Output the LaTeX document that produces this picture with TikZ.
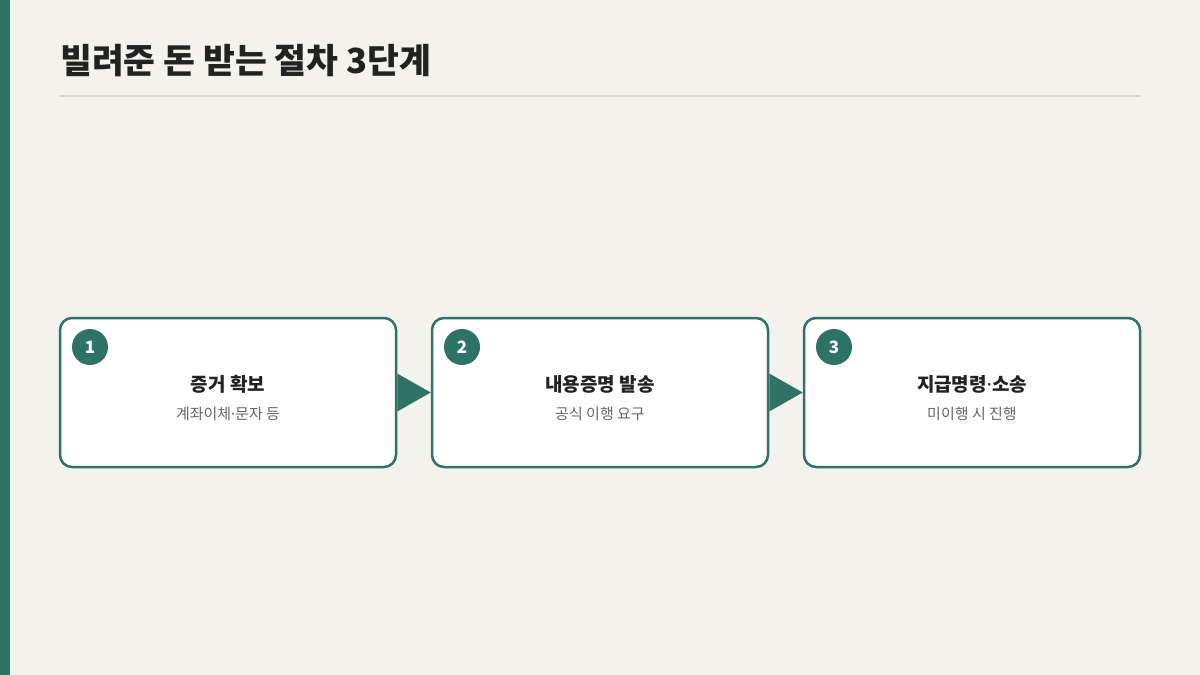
\documentclass[tikz,border=0pt]{standalone}
\usepackage{fontspec}
\setmainfont{Noto Sans CJK KR}
\newfontfamily\dotfont{Noto Sans}
\newcommand{\middot}{{\dotfont\char"00B7}}
\usetikzlibrary{positioning}
\definecolor{bgpaper}{HTML}{F4F2ED}
\definecolor{teal}{HTML}{2F7367}
\definecolor{rulegray}{HTML}{D8D6D0}
\definecolor{headtext}{HTML}{222222}
\definecolor{subtext}{HTML}{666666}
\begin{document}
\begin{tikzpicture}[x=1pt,y=-1pt,
    stepbox/.style={draw=teal,line width=2.5pt,fill=white,rounded corners=12pt,minimum width=336pt,minimum height=149pt},
    badge/.style={circle,fill=teal,minimum size=36pt,inner sep=0pt,text=white,font=\fontsize{17}{17}\selectfont\bfseries},
    headline/.style={anchor=base,text=headtext,font=\fontsize{19}{19}\selectfont\bfseries},
    subline/.style={anchor=base,text=subtext,font=\fontsize{15}{15}\selectfont}]
  \useasboundingbox (0,0) rectangle (1200,675);
  \fill[bgpaper] (0,0) rectangle (1200,675);
  \fill[teal] (0,0) rectangle (10,675);
  \node[anchor=base west,inner sep=0pt,text=headtext,font=\fontsize{34.6}{34.6}\selectfont\bfseries] (title) at (60,73) {빌려준 돈 받는 절차 3단계};
  \draw[rulegray,line width=2pt] (60,96) -- (1140,96);

  \node[stepbox] (s1) at (228,392.5) {};
  \node[stepbox] (s2) at (600,392.5) {};
  \node[stepbox] (s3) at (972,392.5) {};

  \node[badge] (b1) at (90,347) {1};
  \node[badge] (b2) at (462,347) {2};
  \node[badge] (b3) at (834,347) {3};

  \node[headline] (h1) at (228,391) {증거 확보};
  \node[subline] (t1) at (228,419) {계좌이체\middot 문자 등};
  \node[headline] (h2) at (600,391) {내용증명 발송};
  \node[subline] (t2) at (600,419) {공식 이행 요구};
  \node[headline] (h3) at (972,391) {지급명령\middot 소송};
  \node[subline] (t3) at (972,419) {미이행 시 진행};

  \fill[teal] ([yshift=19pt]s1.east) -- (s2.west) -- ([yshift=-19pt]s1.east) -- cycle;
  \fill[teal] ([yshift=19pt]s2.east) -- (s3.west) -- ([yshift=-19pt]s2.east) -- cycle;
\end{tikzpicture}
\end{document}
